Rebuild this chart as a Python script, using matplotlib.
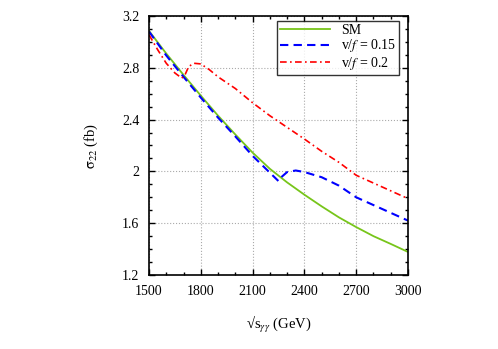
import matplotlib
matplotlib.use("Agg")
import matplotlib.pyplot as plt
from matplotlib.ticker import MultipleLocator

plt.rcParams['font.family'] = ['Liberation Serif', 'DejaVu Serif']
plt.rcParams['mathtext.fontset'] = 'stix'

sm_x = [1500, 1600, 1700, 1800, 1900, 2000, 2100, 2200, 2300, 2400, 2500, 2600, 2700, 2800, 2900, 3000]
sm_y = [3.085, 2.91, 2.745, 2.585, 2.43, 2.285, 2.145, 2.02, 1.915, 1.82, 1.73, 1.645, 1.57, 1.50, 1.44, 1.378]

b_x = [1500, 1600, 1700, 1800, 1900, 2000, 2100, 2200, 2250, 2270, 2300, 2350, 2400, 2500, 2600, 2700, 2800, 2900, 3000]
b_y = [3.08, 2.895, 2.73, 2.57, 2.415, 2.27, 2.12, 1.99, 1.925, 1.96, 1.995, 2.007, 1.995, 1.955, 1.89, 1.80, 1.74, 1.68, 1.62]

r_x = [1500, 1550, 1600, 1650, 1690, 1710, 1730, 1760, 1800, 1850, 1900, 1950, 2000, 2100, 2200, 2300, 2400, 2500, 2600, 2700, 2800, 2900, 3000]
r_y = [3.055, 2.94, 2.835, 2.76, 2.72, 2.75, 2.81, 2.835, 2.83, 2.785, 2.73, 2.685, 2.64, 2.53, 2.43, 2.34, 2.25, 2.155, 2.07, 1.97, 1.91, 1.85, 1.79]

fig = plt.figure(figsize=(4.98, 3.49), dpi=100)
ax = fig.add_axes([149/498, 1-275/349, (408-149)/498, (275-16)/349])

ax.plot(sm_x, sm_y, color='#77c51a', lw=1.3, ls='-', label='SM')
ax.plot(b_x, b_y, color='#0000ff', lw=1.5, ls=(0, (4, 2.5)), label=r'v/$f$ = 0.15')
ax.plot(r_x, r_y, color='#ff0000', lw=1.2, ls=(0, (4, 2, 1, 2)), label=r'v/$f$ = 0.2')

ax.set_xlim(1500, 3000)
ax.set_ylim(1.2, 3.2)
ax.xaxis.set_major_locator(MultipleLocator(300))
ax.xaxis.set_minor_locator(MultipleLocator(100))
ax.yaxis.set_major_locator(MultipleLocator(0.4))
ax.yaxis.set_minor_locator(MultipleLocator(0.1))
ax.set_yticks([1.2, 1.6, 2.0, 2.4, 2.8, 3.2])
ax.set_yticklabels(['1.2', '1.6', '2', '2.4', '2.8', '3.2'])
ax.tick_params(which='both', direction='in', top=True, right=True, labelsize=10, width=1)
ax.tick_params(which='major', length=4, pad=7)
ax.tick_params(which='minor', length=2)
ax.grid(True, which='major', ls=':', color='#aaaaaa', lw=0.8)
for s in ax.spines.values():
    s.set_linewidth(1.2)

ax.set_xlabel(r'√s$_{\gamma\gamma}$ (GeV)', fontsize=10.5, labelpad=12)
ax.set_ylabel(r'$\mathrm{\sigma}_{22}$ (fb)', fontsize=10.5, labelpad=16)

leg = ax.legend(loc='upper right', bbox_to_anchor=(399/498, 1-21/349), bbox_transform=fig.transFigure,
                fontsize=10, frameon=True, fancybox=False, edgecolor='black',
                borderpad=0.2, labelspacing=0.05, handlelength=3.6, handletextpad=0.8,
                borderaxespad=0)
leg.get_frame().set_linewidth(1.0)

fig.savefig('out.png', dpi=100)
